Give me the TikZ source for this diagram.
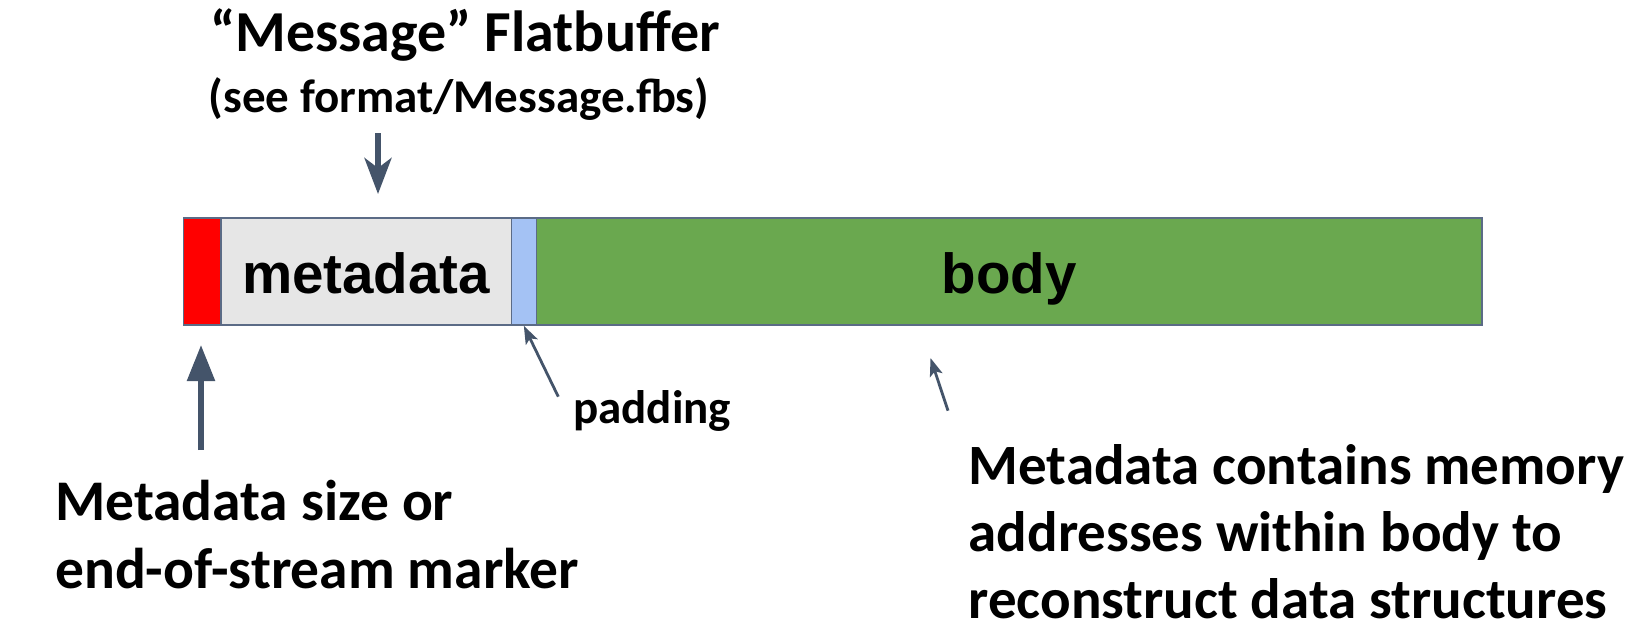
\documentclass[tikz,border=0pt]{standalone}
\usepackage{fontspec}
\setmainfont{Carlito}
\newfontfamily\arialfont{Liberation Sans}
\usetikzlibrary{arrows.meta}
\definecolor{arrowc}{HTML}{44546A}
\definecolor{edgec}{HTML}{5B6B86}
\definecolor{redc}{HTML}{FF0000}
\definecolor{metac}{HTML}{E6E6E6}
\definecolor{padc}{HTML}{A4C2F4}
\definecolor{bodyc}{HTML}{6AA84F}
\begin{document}
\begin{tikzpicture}[x=1pt,y=-1pt,
  seg/.style={draw=edgec, line width=1.5pt, inner sep=0pt, minimum height=107.3pt,
    anchor=north west, text height=43.7pt, text depth=0pt,
    font=\arialfont\bfseries\fontsize{56.5}{60}\selectfont},
  biglabel/.style={inner sep=0pt, align=left},
  midlabel/.style={inner sep=0pt, font=\bfseries\fontsize{47}{50}\selectfont},
  block arrow/.style={draw=arrowc, line width=5.5pt, -{Triangle[length=36pt,width=27pt]}},
  notch arrow/.style={draw=arrowc, line width=5.5pt, -{Stealth[length=36pt,width=27pt,inset=10pt]}},
  thin arrow/.style={draw=arrowc, line width=2.8pt, -{Stealth[length=18pt,width=13pt,inset=4pt]}},
]
\useasboundingbox (0,0) rectangle (1644,638);

% bar segments
\node[seg, fill=redc,  minimum width=37.5pt]  (red)  at (182.5,217) {};
\node[seg, fill=metac, minimum width=290.7pt] (meta) at (220,217)   {metadata};
\node[seg, fill=padc,  minimum width=24.8pt]  (pad)  at (510.7,217) {};
\node[seg, fill=bodyc, minimum width=945.5pt] (body) at (535.5,217) {body};

% labels
\node[inner sep=0pt, anchor=base, font=\bfseries\fontsize{58}{60}\selectfont] (title) at (465,51.7) {“Message” Flatbuffer};
\node[midlabel, anchor=base] (sub) at (459,112.5) {(see format/Message.fbs)};
\node[midlabel, anchor=base west] (padlbl) at (573,423) {padding};
\node[biglabel, anchor=base west, font=\bfseries\fontsize{57.5}{68.3}\selectfont] (sizelbl) at (55,588.3) {Metadata size or\\end-of-stream marker};
\node[biglabel, anchor=base west, font=\bfseries\fontsize{57}{66.7}\selectfont] (addrlbl) at (968.5,618.3) {Metadata contains memory\\addresses within body to\\reconstruct data structures};

% arrow end points
\coordinate (a1s) at (378,133);   \coordinate (a1e) at (378,194);
\coordinate (a2s) at (201,450);   \coordinate (a2e) at (201,345);
\coordinate (a3s) at (558.3,396.7);
\coordinate (a4s) at (948,410.7); \coordinate (a4e) at (930.5,358);

\draw[notch arrow] (a1s) -- (a1e);
\draw[block arrow] (a2s) -- (a2e);
\draw[thin arrow] (a3s) -- (pad.south);
\draw[thin arrow] (a4s) -- (a4e);
\end{tikzpicture}
\end{document}
